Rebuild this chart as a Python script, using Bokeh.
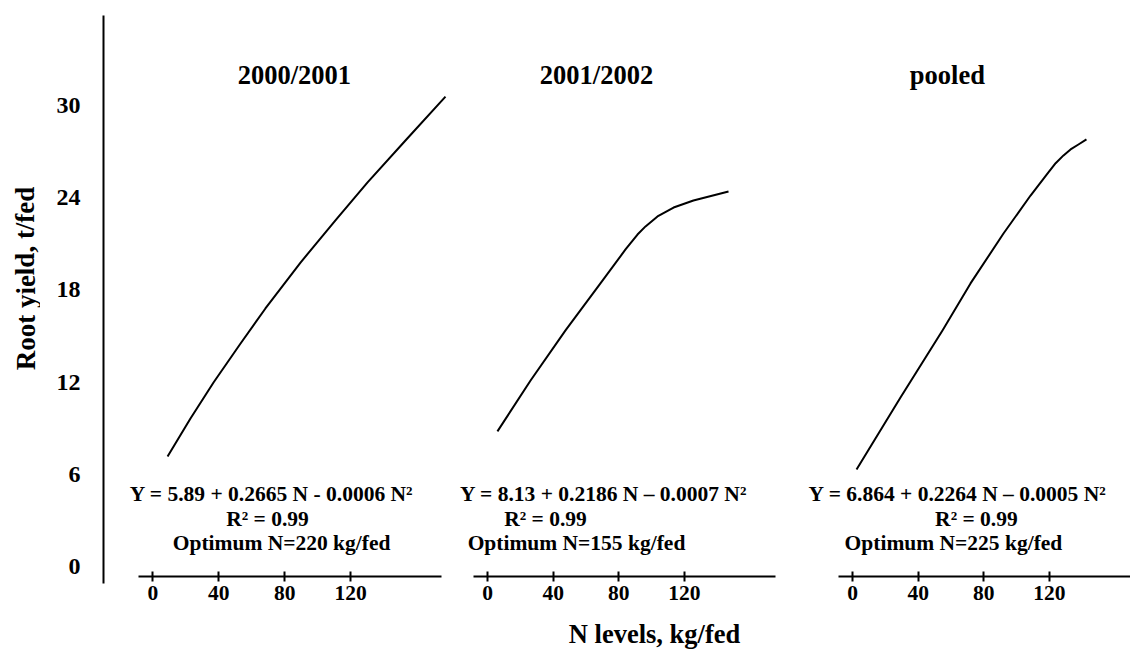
from bokeh.plotting import figure
from bokeh.layouts import row, column
from bokeh.models import Label, FixedTicker, Range1d
from bokeh.embed import file_html
from bokeh.resources import INLINE

FONT = "Liberation Serif"

# ---------------- data ----------------
y_ticks = [0, 6, 12, 18, 24, 30]
x_ticks = [0, 40, 80, 120]
panel_titles = ["2000/2001", "2001/2002", "pooled"]

n_2000 = [8.9, 22.8, 36.8, 53.2, 68.3, 89.6, 110.8, 130.3, 153.3, 177.6]
y_2000 = [7.16, 9.63, 11.97, 14.51, 16.79, 19.78, 22.52, 24.99, 27.72, 30.58]

n_2001 = [6.0, 26.2, 47.5, 68.8, 84.1, 91.4, 96.3, 103.6, 113.4, 125.5, 146.9]
y_2001 = [8.79, 12.10, 15.36, 18.42, 20.63, 21.60, 22.13, 22.78, 23.36, 23.82, 24.40]

n_pooled = [2.4, 29.2, 54.8, 71.9, 92.0, 108.5, 118.8, 123.8, 128.6, 132.9, 137.7, 142.6]
y_pooled = [6.31, 11.00, 15.36, 18.42, 21.67, 24.14, 25.57, 26.24, 26.75, 27.14, 27.46, 27.79]

equations = [
    "Y = 5.89 + 0.2665 N - 0.0006 N\u00b2",
    "Y = 8.13 + 0.2186 N \u2013 0.0007 N\u00b2",
    "Y = 6.864 + 0.2264 N \u2013 0.0005 N\u00b2",
]
r2_texts = ["R\u00b2 = 0.99", "R\u00b2 = 0.99", "R\u00b2 = 0.99"]
optimum_texts = ["Optimum N=220 kg/fed", "Optimum N=155 kg/fed", "Optimum N=225 kg/fed"]

y_title = "Root yield, t/fed"
x_title = "N levels, kg/fed"

# ---------------- layout ----------------
H = 649
TOP_H = 562          # drawing strip of each panel
AX_H = 56            # axis strip of each panel
XT_H = H - TOP_H - AX_H   # x-title strip


def base_fig(**kw):
    p = figure(output_backend="svg", toolbar_location=None, **kw)
    p.frame_align = False
    p.outline_line_color = None
    p.background_fill_color = "white"
    p.border_fill_color = "white"
    p.xgrid.visible = False
    p.ygrid.visible = False
    return p


def text_label(p, x, y, s, size, angle=0.0):
    p.add_layout(Label(x=x, y=y, text=s, angle=angle, text_align="center",
                       text_baseline="middle", text_font=FONT,
                       text_font_style="bold", text_font_size=size,
                       text_color="black"))


# y-title strip (pixel-like ranges, y downward)
fyt = base_fig(width=40, height=H, x_range=Range1d(0, 40), y_range=Range1d(H, 0),
               x_axis_location=None, y_axis_location=None,
               min_border_left=0, min_border_right=0,
               min_border_top=0, min_border_bottom=0)
text_label(fyt, 25, 278, y_title, "27px", angle=1.5708)

# y-axis figure
fy = base_fig(width=65, height=H, x_range=Range1d(0, 2), y_range=Range1d(-1.106, 35.856),
              x_axis_location=None, min_border_left=63, min_border_right=0,
              min_border_top=15, min_border_bottom=66)
ya = fy.yaxis[0]
ya.ticker = FixedTicker(ticks=y_ticks)
ya.axis_line_width = 2
ya.axis_line_color = "black"
ya.major_tick_in = 0
ya.major_tick_out = 0
ya.minor_tick_in = 0
ya.minor_tick_out = 0
ya.major_label_standoff = 23
ya.major_label_text_font = FONT
ya.major_label_text_font_style = "bold"
ya.major_label_text_font_size = "24px"
ya.major_label_text_color = "black"

# width, axis left border, axis right border, top x range, axis x range
panel_specs = [
    (352, 33, 16, (-28.77, 184.89), (-8.74, 175.17)),
    (349, 16, 31, (-18.35, 194.45), (-8.60, 175.55)),
    (324, 32, 0, (-28.11, 169.45), (-8.60, 169.45)),
]
curves = [(n_2000, y_2000), (n_2001, y_2001), (n_pooled, y_pooled)]
title_x = [85.9, 66.4, 57.8]
eq_x = [72.0, 70.7, 64.0]
r2_x = [69.6, 35.3, 75.5]
opt_x = [78.1, 54.2, 61.5]

cols = []
for i, (w, bl, br, xr_top, xr_ax) in enumerate(panel_specs):
    t = base_fig(width=w, height=TOP_H,
                 x_range=Range1d(*xr_top), y_range=Range1d(0.26, 36.83),
                 x_axis_location=None, y_axis_location=None,
                 min_border_left=0, min_border_right=0,
                 min_border_top=0, min_border_bottom=0)
    nx, ny = curves[i]
    t.line(nx, ny, line_color="black", line_width=2, line_join="round")
    text_label(t, title_x[i], 32.0, panel_titles[i], "26.5px")
    text_label(t, eq_x[i], 4.69, equations[i], "21.5px")
    text_label(t, r2_x[i], 3.12, r2_texts[i], "21.5px")
    text_label(t, opt_x[i], 1.50, optimum_texts[i], "21.5px")

    a = base_fig(width=w, height=AX_H,
                 x_range=Range1d(*xr_ax), y_range=Range1d(0, 1),
                 y_axis_location=None, min_border_left=bl, min_border_right=br,
                 min_border_top=0, min_border_bottom=AX_H - 14)
    xa = a.xaxis[0]
    xa.ticker = FixedTicker(ticks=x_ticks)
    xa.axis_line_width = 2
    xa.axis_line_color = "black"
    xa.major_tick_line_width = 2
    xa.major_tick_in = 5
    xa.major_tick_out = 5
    xa.minor_tick_in = 0
    xa.minor_tick_out = 0
    xa.major_label_standoff = 4
    xa.major_label_text_font = FONT
    xa.major_label_text_font_style = "bold"
    xa.major_label_text_font_size = "21.5px"
    xa.major_label_text_color = "black"
    cols.append(column(t, a))

# x-title strip (pixel-like ranges)
x0 = 105
fxt = base_fig(width=1130 - x0, height=XT_H,
               x_range=Range1d(x0, 1130), y_range=Range1d(H, H - XT_H),
               x_axis_location=None, y_axis_location=None,
               min_border_left=0, min_border_right=0,
               min_border_top=0, min_border_bottom=0)
text_label(fxt, 654, 633, x_title, "26.5px")

layout = row(fyt, fy, column(row(*cols), fxt))
open("out.html", "w").write(file_html(layout, INLINE))
